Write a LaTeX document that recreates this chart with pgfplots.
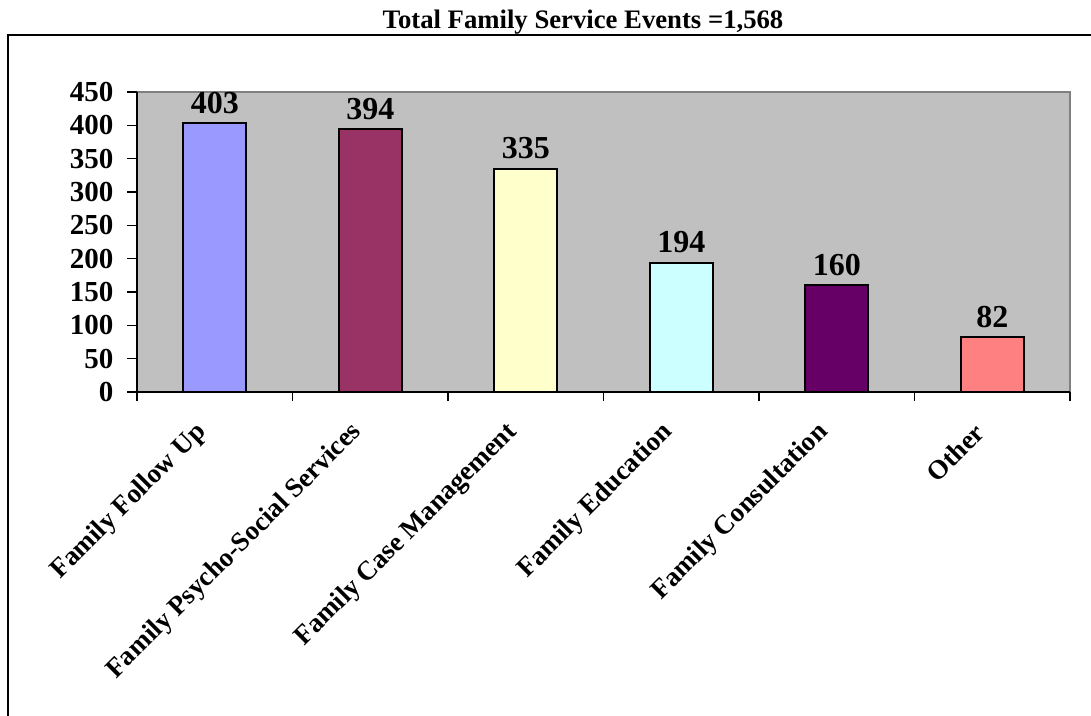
\documentclass[border=0pt]{standalone}
\usepackage{pgfplots}
\pgfplotsset{compat=1.18}
\usepackage{fontspec}
\setmainfont{Liberation Serif}
\definecolor{plotgray}{HTML}{C0C0C0}
\definecolor{bordergray}{HTML}{808080}
\definecolor{cA}{HTML}{9999FF}
\definecolor{cB}{HTML}{993366}
\definecolor{cC}{HTML}{FFFFCC}
\definecolor{cD}{HTML}{CCFFFF}
\definecolor{cE}{HTML}{660066}
\definecolor{cF}{HTML}{FF8080}
\begin{document}
\begin{tikzpicture}[x=1pt,y=1pt]
\path[use as bounding box] (0,0) rectangle (1091,715);
\draw[line width=1.5pt] (8,-5) -- (8,680) -- (1100,680);
\node[font=\bfseries\fontsize{26.7}{30}\selectfont, anchor=base, inner sep=0pt] at (583,686) {Total Family Service Events =1,568};
\begin{axis}[
  at={(137pt,323pt)}, anchor=south west,
  width=933pt, height=300pt, scale only axis,
  xmin=-0.5, xmax=5.5, ymin=0, ymax=450,
  axis x line*=bottom, axis y line*=left,
  every outer x axis line/.append style={-},
  every outer y axis line/.append style={-},
  axis line style={line width=1.5pt, black, -},
  axis background/.style={fill=plotgray, draw=bordergray, line width=1.5pt},
  ytick={0,50,...,450},
  xtick={0,...,5},
  xticklabels={Family Follow Up, Family Psycho-Social Services, Family Case Management, Family Education, Family Consultation, Other},
  minor xtick={-0.5,0.5,...,5.5},
  tick align=outside,
  major tick length=10pt,
  minor tick length=9pt,
  major x tick style={draw=none},
  minor x tick style={line width=1.5pt, black},
  major y tick style={line width=1.5pt, black},
  /pgf/number format/assume math mode=true,
  yticklabel style={font=\bfseries\fontsize{29}{29}\selectfont, xshift=-10pt},
  xticklabel style={font=\bfseries\fontsize{27}{27}\selectfont, yshift=-24pt, xshift=-10pt, rotate=45, anchor=east},
  nodes near coords,
  nodes near coords style={font=\bfseries\fontsize{32}{32}\selectfont, text=black, anchor=south, inner sep=0pt, yshift=9pt},
  clip=false,
]
\addplot[ybar, bar width=0.405, bar shift=0pt, fill=cA, draw=black, line width=2pt] coordinates {(0,403)};
\addplot[ybar, bar width=0.405, bar shift=0pt, fill=cB, draw=black, line width=2pt] coordinates {(1,394)};
\addplot[ybar, bar width=0.405, bar shift=0pt, fill=cC, draw=black, line width=2pt] coordinates {(2,335)};
\addplot[ybar, bar width=0.405, bar shift=0pt, fill=cD, draw=black, line width=2pt] coordinates {(3,194)};
\addplot[ybar, bar width=0.405, bar shift=0pt, fill=cE, draw=black, line width=2pt] coordinates {(4,160)};
\addplot[ybar, bar width=0.405, bar shift=0pt, fill=cF, draw=black, line width=2pt] coordinates {(5,82)};
\end{axis}
\end{tikzpicture}
\end{document}
